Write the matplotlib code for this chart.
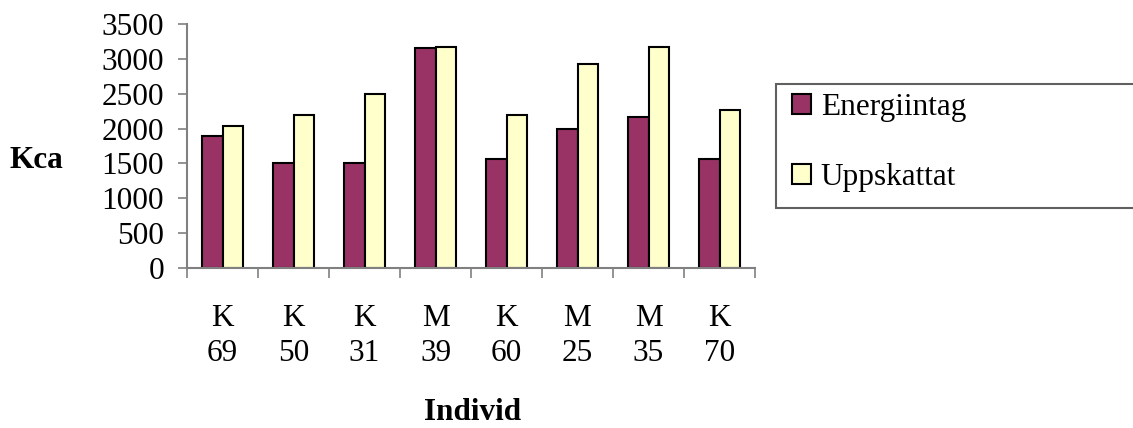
import matplotlib
matplotlib.use("Agg")
import matplotlib.pyplot as plt
import numpy as np
from matplotlib.patches import Patch, Rectangle

categories = ["K\n69", "K\n50", "K\n31", "M\n39", "K\n60", "M\n25", "M\n35", "K\n70"]
energiintag = [1890, 1510, 1510, 3150, 1570, 2000, 2170, 1570]
uppskattat = [2030, 2200, 2490, 3175, 2200, 2920, 3175, 2260]
yticks = [0, 500, 1000, 1500, 2000, 2500, 3000, 3500]

plt.rcParams['font.family'] = ['Liberation Serif', 'DejaVu Serif']
FS = 22.5

fig = plt.figure(figsize=(11.33, 4.28), dpi=100)
ax = fig.add_axes([187/1133, 1-268/428, (755-187)/1133, (268-24)/428])

x = np.arange(len(categories))
w = 1/3.5
ax.bar(x - w/2, energiintag, w, color="#993366", edgecolor="black", linewidth=1.5, label="Energiintag")
ax.bar(x + w/2, uppskattat, w, color="#FFFFCC", edgecolor="black", linewidth=1.5, label="Uppskattat")

ax.set_xlim(-0.5, len(categories) - 0.5)
ax.set_ylim(0, 3500)
ax.set_yticks(yticks)
ax.set_yticklabels([str(v) for v in yticks], fontsize=FS)
ax.set_xticks(x)
ax.set_xticklabels(categories, fontsize=FS, linespacing=1.28)
ax.set_xticks(np.arange(len(categories) + 1) - 0.5, minor=True)
ax.tick_params(axis='x', which='major', length=0, pad=26)
ax.tick_params(axis='x', which='minor', length=7, width=1.2, color="#808080")
ax.tick_params(axis='y', length=6.5, width=1.2, color="#808080", pad=10)

for s in ["top", "right"]:
    ax.spines[s].set_visible(False)
for s in ["left", "bottom"]:
    ax.spines[s].set_color("#808080")
    ax.spines[s].set_linewidth(1.5)

fig.text(10/1133, 1-160/428, "Kca", fontsize=FS, fontweight="bold", va="center", ha="left")
fig.text(473/1133, 1-412/428, "Individ", fontsize=FS, fontweight="bold", va="center", ha="center")

# legend frame
frame = Rectangle((776/1133, 1-208/428), (1140-776)/1133, (208-84)/428,
                  transform=fig.transFigure, facecolor="white", edgecolor="#606060",
                  linewidth=1.5, clip_on=False)
fig.add_artist(frame)

handles = [Patch(facecolor="#993366", edgecolor="black", linewidth=1.5, label="Energiintag"),
           Patch(facecolor="#FFFFCC", edgecolor="black", linewidth=1.5, label="Uppskattat")]
leg = fig.legend(handles=handles, loc="center left",
                 bbox_to_anchor=(792/1133, 1-142.5/428),
                 fontsize=FS, frameon=False,
                 handlelength=0.62, handleheight=0.62, handletextpad=0.3,
                 labelspacing=1.32, borderpad=0, borderaxespad=0)

fig.savefig("out.png", dpi=100)
